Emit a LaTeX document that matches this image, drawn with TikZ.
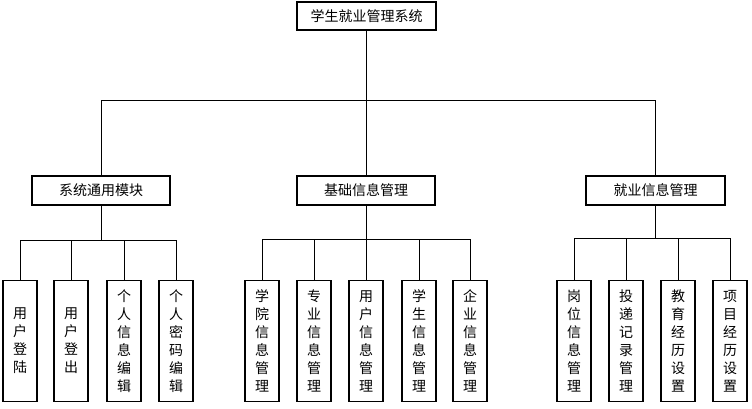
\documentclass[tikz,border=0pt]{standalone}
\usepackage{fontspec}
\setmainfont{Noto Sans CJK SC}
\begin{document}
\begin{tikzpicture}[x=1pt,y=-1pt,
  box/.style={draw=black,line width=1.2pt,fill=white,inner sep=0pt,font=\fontsize{14}{18}\selectfont},
  hbox/.style={box,minimum width=138pt,minimum height=28pt},
  vbox/.style={box,minimum width=34pt,minimum height=121pt,align=center},
  conn/.style={draw=black,line width=0.9pt}]
\useasboundingbox[fill=white] (0,0) rectangle (752,408);
\node[hbox,minimum width=139pt] (root) at (366.5,16) {学生就业管理系统};
\node[hbox,minimum height=29pt] (sys) at (101,190.5) {系统通用模块};
\node[hbox,minimum height=29pt] (base) at (366,190.5) {基础信息管理};
\node[hbox,minimum height=29pt,minimum width=139pt] (job) at (655.5,190.5) {就业信息管理};
% group 1
\node[vbox] (a1) at (20,341) {用\\户\\登\\陆};
\node[vbox] (a2) at (71,341) {用\\户\\登\\出};
\node[vbox] (a3) at (124,341) {个\\人\\信\\息\\编\\辑};
\node[vbox] (a4) at (176,341) {个\\人\\密\\码\\编\\辑};
% group 2
\node[vbox] (b1) at (262,341) {学\\院\\信\\息\\管\\理};
\node[vbox] (b2) at (314,341) {专\\业\\信\\息\\管\\理};
\node[vbox] (b3) at (366,341) {用\\户\\信\\息\\管\\理};
\node[vbox] (b4) at (419,341) {学\\生\\信\\息\\管\\理};
\node[vbox] (b5) at (470,341) {企\\业\\信\\息\\管\\理};
% group 3
\node[vbox] (c1) at (574,341) {岗\\位\\信\\息\\管\\理};
\node[vbox] (c2) at (626,341) {投\\递\\记\\录\\管\\理};
\node[vbox] (c3) at (678,341) {教\\育\\经\\历\\设\\置};
\node[vbox] (c4) at (730,341) {项\\目\\经\\历\\设\\置};
% buses
\coordinate (r0) at (366.5,100);
\coordinate (s0) at (101,240);
\coordinate (t0) at (366,239);
\coordinate (u0) at (655.5,238);
\path[conn] (root.south) -- (r0);
\path[conn] (r0) -| (sys.north);
\path[conn] (r0) -| (base.north);
\path[conn] (r0) -| (job.north);
\path[conn] (sys.south) -- (s0);
\foreach \n in {a1,a2,a3,a4} {\path[conn] (s0) -| (\n.north);}
\path[conn] (base.south) -- (t0);
\foreach \n in {b1,b2,b3,b4,b5} {\path[conn] (t0) -| (\n.north);}
\path[conn] (job.south) -- (u0);
\foreach \n in {c1,c2,c3,c4} {\path[conn] (u0) -| (\n.north);}
\end{tikzpicture}
\end{document}
